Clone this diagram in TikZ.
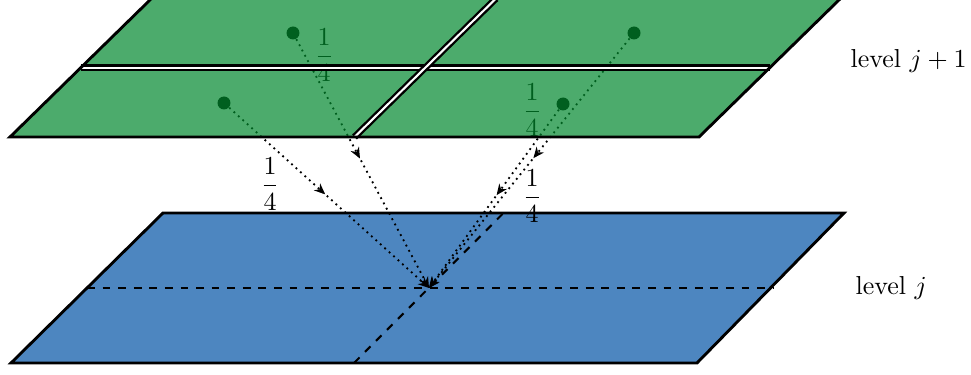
\documentclass[tikz,border=0pt]{standalone}
\usetikzlibrary{arrows.meta,decorations.markings}
\definecolor{planegreen}{RGB}{0,136,45}
\definecolor{planeblue}{RGB}{77,134,192}
\tikzset{
  plane/.style={line width=1.1pt, line join=miter},
  divider/.style={line width=0.9pt, double=white, double distance=0.8pt},
  gridline/.style={line width=0.8pt, dashed},
  flow/.style={line width=0.7pt, dash pattern=on 0.7pt off 1.6pt,
    -{Stealth[length=4.2pt,width=3.6pt]},
    postaction={decorate},
    decoration={markings, mark=at position 0.48 with {\arrow{Stealth[length=4.2pt,width=3.6pt]}}}},
  dot/.style={circle, fill=black, inner sep=0pt, minimum size=5pt},
  frac/.style={inner sep=0pt},
  levellabel/.style={anchor=base west, inner sep=0pt}
}
\begin{document}
\begin{tikzpicture}[x=0.385pt, y=-0.385pt]
\useasboundingbox (0,0) rectangle (971,375);
% level j (blue)
\coordinate (b1) at (11,363);
\coordinate (b2) at (697,363);
\coordinate (b3) at (844,213);
\coordinate (b4) at (163,213);
\coordinate (bml) at (87,288);
\coordinate (bmr) at (773,288);
\coordinate (bmb) at (354,363);
\coordinate (bmt) at (503.5,213);
\coordinate (c) at (429,288);
\fill[planeblue] (b1) -- (b2) -- (b3) -- (b4) -- cycle;
\draw[gridline] (bml) -- (bmr);
\draw[gridline] (bmb) -- (bmt);
\draw[plane] (b1) -- (b2) -- (b3) -- (b4) -- cycle;
% dots and flows
\node[dot] (ul) at (293,33) {};
\node[dot] (ll) at (224,103) {};
\node[dot] (ur) at (634,33) {};
\node[dot] (lr) at (563,104) {};
\draw[flow] (ll) -- (c);
\draw[flow] (ul) -- (c);
\draw[flow] (ur) -- (c);
\draw[flow] (lr) -- (c);
\node[frac] (w1) at (324,55) {$\displaystyle\frac{1}{4}$};
\node[frac] (w2) at (270,184) {$\displaystyle\frac{1}{4}$};
\node[frac] (w3) at (532,110) {$\displaystyle\frac{1}{4}$};
\node[frac] (w4) at (532,196) {$\displaystyle\frac{1}{4}$};
% level j+1 (green)
\coordinate (g1) at (10,137);
\coordinate (g2) at (699,137);
\coordinate (g3) at (840.5,-1.5);
\coordinate (g4) at (151.5,-1.5);
\coordinate (gml) at (80.75,67.75);
\coordinate (gmr) at (769.75,67.75);
\coordinate (gmb) at (354.5,137);
\coordinate (gmt) at (496,-1.5);
\fill[planegreen, fill opacity=0.7] (g1) -- (g2) -- (g3) -- (g4) -- cycle;
\draw[divider] (gml) -- (gmr);
\draw[divider] (gmb) -- (gmt);
\draw[plane] (g1) -- (g2) -- (g3) -- (g4) -- cycle;
% labels
\node[levellabel] (lj1) at (850,68) {level $j+1$};
\node[levellabel] (lj) at (855,295) {level $j$};
\end{tikzpicture}
\end{document}
